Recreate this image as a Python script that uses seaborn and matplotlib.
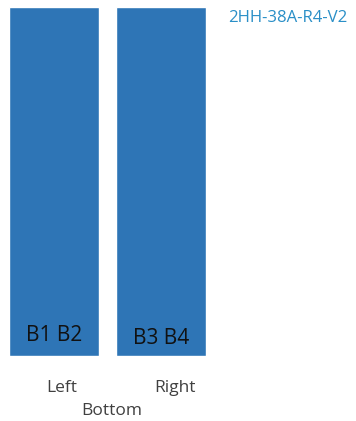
import matplotlib
matplotlib.use("Agg")
import matplotlib.pyplot as plt
import seaborn as sns
import pandas as pd

categories = ["Left", "Right"]
values = [1, 1]
bar_labels = ["B1 B2", "B3 B4"]
axis_title = "Bottom"
chart_title = "2HH-38A-R4-V2"

sns.set_theme(style="white")
plt.rcParams['font.family'] = ['Open Sans', 'DejaVu Sans']

W, H = 356, 421
fig = plt.figure(figsize=(W / 100, H / 100), dpi=100)
ax = fig.add_axes([9 / W, 1 - 355.6 / H, (206 - 9) / W, (355.6 - 7) / H])

df = pd.DataFrame({"cat": categories, "val": values})
sns.barplot(data=df, x="cat", y="val", color="#2e75b6", saturation=1,
            width=0.841, ax=ax)
ax.set_xlim(-0.4206, 1.4206)
ax.set_ylim(0, 1)
for s in ax.spines.values():
    s.set_visible(False)
ax.set_yticks([])
ax.set_xticks([])
ax.set_ylabel("")

label_y = [0.058, 0.05]
for i, (lab, ly) in enumerate(zip(bar_labels, label_y)):
    ax.text(i, ly, lab, ha="center", va="center", fontsize=15, color="#111111")

tick_off = [0.075, 0.13]
for i, (c, off) in enumerate(zip(categories, tick_off)):
    ax.text(i + off, -0.094, c, ha="center", va="center", fontsize=12.5,
            color="#404040")

ax.set_xlabel(axis_title, fontsize=12.5, color="#404040")
ax.xaxis.set_label_coords((112 - 9) / (206 - 9), -(411 - 355.6) / (355.6 - 7), transform=ax.transAxes)
ax.xaxis.label.set_va("center")

fig.text(347 / W, 1 - 18 / H, chart_title, ha="right", va="center",
         fontsize=12.1, color="#2a8fc7")

fig.savefig("out.png", dpi=100)
